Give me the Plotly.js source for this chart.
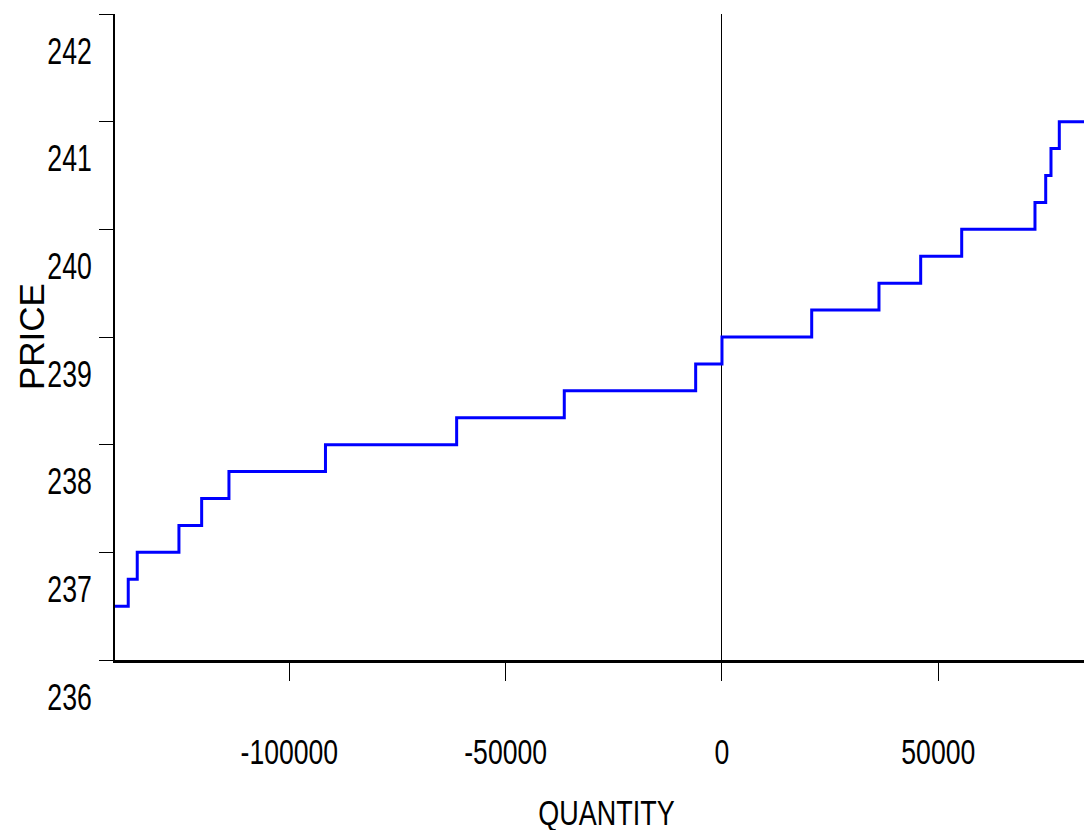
<!DOCTYPE html>
<html>
<head>
<meta charset="utf-8">
<script src="https://cdn.plot.ly/plotly-3.0.1.min.js"></script>
<style>html,body{margin:0;padding:0;background:#fff;}#chart{width:1084px;height:830px;}</style>
</head>
<body>
<div id="chart"></div>
<script>
// Step curve: quantity where each price level begins, and the price level
const quantity = [-140300, -137240, -135160, -125520, -120270, -113960, -91650, -61330, -36450, -6080, 0, 20740, 36290, 45930, 55410, 72350, 74830, 76050, 77970, 83680];
const price    = [236.5, 236.75, 237, 237.25, 237.5, 237.75, 238, 238.25, 238.5, 238.75, 239, 239.25, 239.5, 239.75, 240, 240.25, 240.5, 240.75, 241, 241];
const yTicks = [236, 237, 238, 239, 240, 241, 242];
const yTickLabels = ['236', '237', '238', '239', '240', '241', '242'];
const xTicks = [-100000, -50000, 0, 50000];
const xTickLabels = ['-100000', '-50000', '0', '50000'];
const xTitle = 'QUANTITY';
const yTitle = 'PRICE';

const sans = '"Liberation Sans", Arial, sans-serif';

const trace = {
  x: quantity, y: price, type: 'scatter', mode: 'lines',
  line: {shape: 'hv', color: '#0000ff', width: 3},
  hoverinfo: 'x+y'
};

const layout = {
  width: 1084, height: 830,
  margin: {l: 115, r: 0, t: 14, b: 170},
  paper_bgcolor: '#fff', plot_bgcolor: '#fff',
  showlegend: false,
  xaxis: {
    range: [-140300, 83680],
    tickvals: xTicks, ticktext: xTickLabels,
    ticks: 'outside', ticklen: 18, tickwidth: 1, tickcolor: '#000',
    showline: true, linecolor: '#000', linewidth: 3,
    showgrid: false,
    zeroline: true, zerolinecolor: '#000', zerolinewidth: 1,
    tickfont: {family: sans, size: 35, color: '#000'},
    ticklabelstandoff: 41,
    automargin: false
  },
  yaxis: {
    range: [236, 242],
    tickvals: yTicks, ticktext: yTickLabels,
    ticks: 'outside', ticklen: 14, tickwidth: 1, tickcolor: '#000',
    showline: true, linecolor: '#000', linewidth: 2,
    showgrid: false, zeroline: false,
    tickfont: {family: sans, size: 36, color: '#000'},
    ticklabelshift: 37,
    automargin: false
  },
  annotations: [{
    text: yTitle, textangle: -90, showarrow: false,
    xref: 'paper', yref: 'paper', x: 0, y: 0.5,
    xanchor: 'center', yanchor: 'middle', xshift: -84,
    font: {family: sans, size: 35, color: '#000'}
  }, {
    text: xTitle, showarrow: false,
    xref: 'paper', yref: 'paper', x: 0.5, y: 0,
    xanchor: 'center', yanchor: 'middle', xshift: 7, yshift: -152,
    font: {family: sans, size: 35, color: '#000'}
  }]
};

function condense(nodes, factor) {
  nodes.forEach(function (t) {
    const w = t.getComputedTextLength();
    if (w > 0) {
      t.setAttribute('textLength', (w * factor).toFixed(1));
      t.setAttribute('lengthAdjust', 'spacingAndGlyphs');
    }
  });
}

Plotly.newPlot('chart', [trace], layout, {staticPlot: true, displayModeBar: false}).then(function () {
  condense(document.querySelectorAll('.xtick text'), 0.76);
  condense(document.querySelectorAll('.ytick text'), 0.74);
  const ann = Array.from(document.querySelectorAll('.annotation-text')).filter(function (t) {
    return t.textContent === xTitle;
  });
  condense(ann, 0.77);
});
</script>
</body>
</html>
